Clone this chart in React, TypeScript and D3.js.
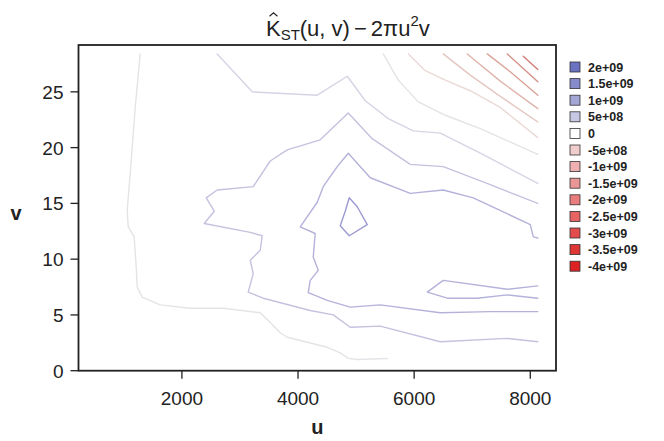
import React from "react";
import * as d3 from "d3";

const W = 664;
const H = 441;

const xTicks = [2000, 4000, 6000, 8000];
const yTicks = [0, 5, 10, 15, 20, 25];

const legendLevels = [2e9, 1.5e9, 1e9, 5e8, 0, -5e8, -1e9, -1.5e9, -2e9, -2.5e9, -3e9, -3.5e9, -4e9];
const legendLabels = ["2e+09", "1.5e+09", "1e+09", "5e+08", "0", "-5e+08", "-1e+09", "-1.5e+09", "-2e+09", "-2.5e+09", "-3e+09", "-3.5e+09", "-4e+09"];
const legendFill = ["#6c72c2", "#878bcc", "#a4a6d6", "#c6c7e3", "#ffffff", "#f1cccc", "#eeb0b0", "#eb9696", "#e97d7d", "#e66464", "#e24c4c", "#df3636", "#dc2222"];
const lineStroke = ["#9c9ad2", "#b4b2da", "#c4c2de", "#d6d4e4", "#e4e4e8", "#eadad6", "#e4c6c0", "#dfb4ac", "#daa298", "#d59086", "#d07e74", "#cc6e64", "#c85e54"];

// contour lines (u, v pairs)
const lineA_u = [1282, 1196, 1110, 1058, 1075, 1178, 1213, 1230, 1316, 1626, 2143, 2711, 3349, 3487, 3693, 3814, 4503, 4727, 4865, 5020, 5537];
const lineA_v = [28.4, 23.6, 17.7, 14.4, 12.9, 12.0, 9.3, 7.5, 6.6, 5.9, 5.6, 5.6, 5.2, 4.5, 3.4, 3.0, 2.1, 1.6, 1.1, 1.0, 1.1];

const lineB_u = [2608, 3211, 4331, 4848, 5158, 5554, 5985, 6450, 7140, 8130];
const lineB_v = [28.4, 25.0, 24.7, 26.4, 24.2, 22.6, 21.5, 21.3, 19.5, 16.8];

const lineC_u = [8130, 7300, 6501, 5933, 5278, 4865, 4382, 3814, 3521, 3228, 2608, 2419, 2557, 2384, 3177, 3383, 3349, 3177, 3228, 3142, 3400, 4210, 4606, 4899, 5416, 6450, 7604, 8130];
const lineC_v = [15.0, 16.7, 18.3, 18.5, 20.8, 23.1, 20.7, 19.8, 18.8, 16.5, 16.2, 15.5, 14.3, 13.2, 12.4, 12.1, 10.8, 9.9, 8.7, 7.05, 6.5, 5.4, 5.0, 3.9, 4.0, 2.6, 2.9, 2.6];

const lineD_u = [8130, 8052, 8000, 7018, 6501, 5933, 5244, 4865, 4675, 4434, 4331, 4038, 4296, 4262, 4348, 4210, 4176, 4503, 4899, 5416, 6450, 7311, 8130];
const lineD_v = [11.9, 12.0, 13.1, 15.5, 16.2, 15.9, 17.3, 19.5, 18.3, 16.5, 15.1, 12.9, 12.3, 10.2, 9.0, 8.1, 7.0, 6.3, 5.7, 5.9, 5.2, 5.3, 5.3];

const tongue_u = [8130, 7604, 6501, 6226, 6570, 7087, 7604, 8130];
const tongue_v = [7.6, 7.3, 8.1, 7.05, 6.5, 6.5, 6.8, 6.5];

const loop_u = [4882, 5020, 5192, 4882, 4727, 4813, 4882];
const loop_v = [15.5, 14.7, 13.1, 12.1, 13.0, 14.3, 15.5];

const lineE1_u = [5468, 5726, 6071, 6536, 7139, 8130];
const lineE1_v = [28.4, 26.05, 24.1, 22.9, 21.7, 19.4];

const lineE2_u = [5901, 6192, 6536, 6967, 7483, 8130];
const lineE2_v = [28.4, 26.9, 26.05, 25.1, 23.6, 20.9];

const lineR1_u = [6501, 6967, 7483, 8130];
const lineR1_v = [28.4, 26.5, 24.6, 22.3];

const lineR2_u = [6915, 7483, 8130];
const lineR2_v = [28.4, 25.96, 23.5];

const lineR3_u = [7259, 7655, 8130];
const lineR3_v = [28.4, 26.8, 24.7];

const lineR4_u = [7604, 8130];
const lineR4_v = [28.4, 25.9];

const lineR5_u = [7879, 8130];
const lineR5_v = [28.2, 27.0];

const contours = [
  { level: 0, u: lineA_u, v: lineA_v },
  { level: 5e8, u: lineB_u, v: lineB_v },
  { level: 1e9, u: lineC_u, v: lineC_v },
  { level: 1.5e9, u: lineD_u, v: lineD_v },
  { level: 1.5e9, u: tongue_u, v: tongue_v },
  { level: 2e9, u: loop_u, v: loop_v },
  { level: 0, u: lineE1_u, v: lineE1_v },
  { level: -5e8, u: lineE2_u, v: lineE2_v },
  { level: -1e9, u: lineR1_u, v: lineR1_v },
  { level: -1.5e9, u: lineR2_u, v: lineR2_v },
  { level: -2e9, u: lineR3_u, v: lineR3_v },
  { level: -2.5e9, u: lineR4_u, v: lineR4_v },
  { level: -3e9, u: lineR5_u, v: lineR5_v },
];

const plot = { left: 78.5, right: 556, top: 45, bottom: 370.7 };

export default function App() {
  const x = d3.scaleLinear().domain([219, 8443]).range([plot.left, plot.right]);
  const y = d3.scaleLinear().domain([0, 29.2]).range([plot.bottom, plot.top]);
  const line = d3
    .line<[number, number]>()
    .x((d) => x(d[0]))
    .y((d) => y(d[1]));

  const font = "'Liberation Sans', Arial, sans-serif";
  const titleX = 266;
  const titleFs = 22;

  return (
    <div style={{ position: "absolute", left: 0, top: 0, width: W, height: H, background: "#fff" }}>
      <svg width={W} height={H} style={{ display: "block" }} fontFamily={font}>
        <rect x={0} y={0} width={W} height={H} fill="#fff" />
        {/* contour lines */}
        <g fill="none" strokeWidth={1.4} strokeLinejoin="round" strokeLinecap="round">
          {contours.map((c, i) => (
            <path
              key={i}
              d={line(c.u.map((u, j) => [u, c.v[j]] as [number, number])) || ""}
              stroke={lineStroke[legendLevels.indexOf(c.level)]}
            />
          ))}
        </g>
        {/* frame */}
        <rect
          x={plot.left}
          y={plot.top}
          width={plot.right - plot.left}
          height={plot.bottom - plot.top}
          fill="none"
          stroke="#222"
          strokeWidth={1.8}
        />
        {/* x axis */}
        <g>
          {xTicks.map((t) => (
            <g key={t}>
              <line x1={x(t)} x2={x(t)} y1={plot.bottom} y2={plot.bottom + 8} stroke="#222" strokeWidth={1.3} />
              <text x={x(t)} y={plot.bottom + 34} textAnchor="middle" fontSize={19} fill="#222">
                {t}
              </text>
            </g>
          ))}
          <text x={(plot.left + plot.right) / 2} y={434} textAnchor="middle" fontSize={20} fontWeight="bold" fill="#222">
            u
          </text>
        </g>
        {/* y axis */}
        <g>
          {yTicks.map((t) => (
            <g key={t}>
              <line x1={plot.left - 8} x2={plot.left} y1={y(t)} y2={y(t)} stroke="#222" strokeWidth={1.3} />
              <text x={plot.left - 15} y={y(t) + 7} textAnchor="end" fontSize={19} fill="#222">
                {t}
              </text>
            </g>
          ))}
          <text x={16} y={220} textAnchor="middle" fontSize={20} fontWeight="bold" fill="#222">
            v
          </text>
        </g>
        {/* title */}
        <g transform={`translate(${titleX},36)`} fill="#222">
          <path
            d={`M ${titleFs * 0.16} -${titleFs * 0.9} L ${titleFs * 0.34} -${titleFs * 1.05} L ${titleFs * 0.52} -${titleFs * 0.9}`}
            fill="none"
            stroke="#222"
            strokeWidth={1.2}
          />
          <text x={0} y={0} fontSize={titleFs}>
            <tspan>K</tspan>
            <tspan fontSize={titleFs * 0.68} dy={4}>ST</tspan>
            <tspan dy={-4}>(u, v)</tspan>
            <tspan dx={4}>−</tspan>
            <tspan dx={4}>2πu</tspan>
            <tspan fontSize={titleFs * 0.68} dy={-10}>2</tspan>
            <tspan dy={10}>v</tspan>
          </text>
        </g>
        {/* legend */}
        <g>
          {legendLabels.map((lab, i) => {
            const cy = 67 + i * 16.6;
            return (
              <g key={lab}>
                <rect x={570} y={cy - 5} width={10} height={10} fill={legendFill[i]} stroke="#333" strokeWidth={0.8} />
                <text x={588} y={cy + 4.5} fontSize={12.5} fontWeight="bold" fill="#222">
                  {lab}
                </text>
              </g>
            );
          })}
        </g>
      </svg>
    </div>
  );
}
